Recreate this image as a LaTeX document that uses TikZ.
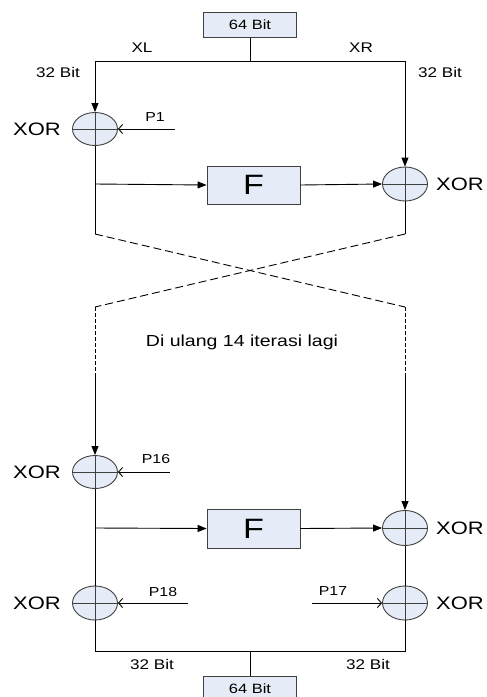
\documentclass[tikz,border=0pt]{standalone}
\usepackage{fontspec}
\setmainfont{Liberation Sans}[FakeStretch=1.22]
\usetikzlibrary{arrows.meta, shapes.geometric}
\definecolor{boxfill}{RGB}{230,236,247}

\begin{document}
\begin{tikzpicture}[x=1pt, y=-1pt, line width=0.9pt,
    box/.style={draw=black!75, fill=boxfill, rectangle, inner sep=0pt},
    xorgate/.style={draw=black!75, fill=boxfill, ellipse, inner sep=0pt, minimum width=45pt, minimum height=33pt},
    lbl/.style={inner sep=0pt, font=\fontsize{14}{16}\selectfont},
    xorlbl/.style={inner sep=0pt, font=\fontsize{18}{20}\selectfont},
    main/.style={-{Triangle[length=9pt,width=7pt]}},
    key/.style={-{Straight Barb[length=4pt,width=9pt]}},
    loopline/.style={dash pattern=on 8pt off 4pt},
    loopdown/.style={dash pattern=on 4pt off 2pt}]
    \clip (0,0) rectangle (487,697);
    \node[box, minimum width=93pt, minimum height=25pt, font=\fontsize{13.5}{15}\selectfont] (in64) at (250,25) {64 Bit};
    \coordinate (jt) at (250,61);
    \coordinate (cl) at (95,61);
    \coordinate (cr) at (405,61);
    \node[xorgate] (xor1) at (95,129) {};
    \node[xorgate, minimum height=34pt] (xor2) at (405,184) {};
    \node[box, minimum width=93pt, minimum height=38pt, font=\fontsize{28}{30}\selectfont] (f1) at (253.5,185) {F};
    \coordinate (p1) at (175,129);
    \coordinate (tap1) at (95,184);
    \coordinate (la) at (95,234);
    \coordinate (ra) at (405,234);
    \coordinate (lb) at (95,307);
    \coordinate (rb) at (405,307);
    \coordinate (lc) at (95,377);
    \coordinate (rc) at (405,377);
    \node[xorgate] (xor16) at (95,472) {};
    \node[xorgate, minimum height=35pt] (xorr) at (405,528) {};
    \node[box, minimum width=93pt, minimum height=39pt, font=\fontsize{28}{30}\selectfont] (f2) at (253.5,528.5) {F};
    \coordinate (p16) at (170,472);
    \coordinate (tap2) at (95,528);
    \node[xorgate, minimum height=34pt] (xor18) at (95,603) {};
    \node[xorgate, minimum height=34pt] (xor17) at (405,603) {};
    \coordinate (p18) at (188,603);
    \coordinate (p17) at (312,603);
    \coordinate (bl) at (95,651);
    \coordinate (br) at (405,651);
    \coordinate (bc) at (250,651);
    \node[box, minimum width=93pt, minimum height=25pt, font=\fontsize{13.5}{15}\selectfont] (out64) at (250,688.5) {64 Bit};

    \draw (in64.south) -- (jt);
    \draw (cl) -- (cr);
    \draw[main] (cl) -- (xor1.north);
    \draw[main] (cr) -- (xor2.north);
    \draw[key] (p1) -- (xor1.east);
    \draw (xor1.south) -- (la);
    \draw[main] (tap1) -- (f1.west);
    \draw[main] (f1.east) -- (xor2.west);
    \draw (xor2.south) -- (ra);
    \draw[loopline] (la) -- (rb);
    \draw[loopline] (ra) -- (lb);
    \draw[loopdown] (lb) -- (lc);
    \draw[loopdown] (rb) -- (rc);
    \draw[main] (lc) -- (xor16.north);
    \draw[main] (rc) -- (xorr.north);
    \draw[key] (p16) -- (xor16.east);
    \draw (xor16.south) -- (xor18.north);
    \draw[main] (tap2) -- (f2.west);
    \draw[main] (f2.east) -- (xorr.west);
    \draw (xorr.south) -- (xor17.north);
    \draw[key] (p18) -- (xor18.east);
    \draw[key] (p17) -- (xor17.west);
    \draw (xor18.south) -- (bl) -- (br) -- (xor17.south);
    \draw (bc) -- (out64.north);
    \foreach \g in {xor1,xor2,xor16,xorr,xor18,xor17}
        \draw[black!75] (\g.north) -- (\g.south) (\g.west) -- (\g.east);

    \node[lbl] (xl) at (142,48) {XL};
    \node[lbl] (xr) at (361,48) {XR};
    \node[lbl] (bitl) at (58,72) {32 Bit};
    \node[lbl] (bitr) at (440,72) {32 Bit};
    \node[lbl, font=\fontsize{13}{15}\selectfont] (lp1) at (155,117) {P1};
    \node[xorlbl] (lx1) at (37,129) {XOR};
    \node[xorlbl] (lx2) at (460,184) {XOR};
    \node[lbl, font=\fontsize{16}{18}\selectfont] (iter) at (242,342) {Di ulang 14 iterasi lagi};
    \node[lbl, font=\fontsize{13}{15}\selectfont] (lp16) at (156,459) {P16};
    \node[xorlbl] (lx16) at (37,472) {XOR};
    \node[xorlbl] (lxr) at (460,528) {XOR};
    \node[lbl, font=\fontsize{13}{15}\selectfont] (lp18) at (163,592) {P18};
    \node[lbl, font=\fontsize{13}{15}\selectfont] (lp17) at (333,591) {P17};
    \node[xorlbl] (lx18) at (37,603) {XOR};
    \node[xorlbl] (lx17) at (460,603) {XOR};
    \node[lbl] (bitbl) at (152,664) {32 Bit};
    \node[lbl] (bitbr) at (368,664) {32 Bit};
\end{tikzpicture}
\end{document}
